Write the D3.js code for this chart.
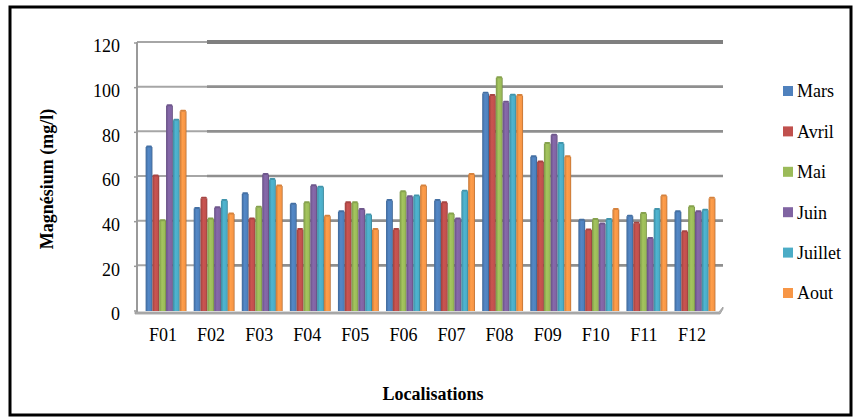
<!DOCTYPE html>
<html><head><meta charset="utf-8">
<script src="https://cdn.jsdelivr.net/npm/d3@7"></script>
<style>html,body{margin:0;padding:0;background:#fff}
text{font-family:'Liberation Serif','Times New Roman','DejaVu Serif',serif}</style>
</head><body><svg id="c" width="853" height="417"></svg>
<script>
const categories = ["F01","F02","F03","F04","F05","F06","F07","F08","F09","F10","F11","F12"];
const seriesNames = ["Mars","Avril","Mai","Juin","Juillet","Aout"];
const mars    = [73, 45.5, 52, 47.4, 44, 49, 49, 97, 68.6, 40.2, 42, 44];
const avril   = [60, 50, 40.7, 36, 48, 36, 48, 96, 66.3, 35.8, 38.8, 35];
const mai     = [40, 40.7, 46, 48, 48, 53, 43, 104, 74.5, 40.5, 43.2, 46.2];
const juin    = [91.5, 45.8, 60.7, 55.6, 45, 50.7, 40.7, 93, 78.3, 38.5, 32, 44];
const juillet = [85, 49, 58.4, 55, 42.5, 51, 53.2, 96.2, 74.5, 40.5, 45, 44.7];
const aout    = [89, 43, 55.5, 42, 36, 55.5, 60.7, 96, 68.6, 45, 51, 50];
const yTicks  = [0, 20, 40, 60, 80, 100, 120];
const colors  = ["#4F81BD","#C0504D","#9BBB59","#8064A2","#4BACC6","#F79646"];
const seriesValues = [mars, avril, mai, juin, juillet, aout];
const FONT = "'Liberation Serif','Times New Roman','DejaVu Serif',serif";

const svg = d3.select("#c");
const defs = svg.append("defs");
colors.forEach((c,i)=>{
  const g = defs.append("linearGradient").attr("id","g"+i).attr("x1","0").attr("x2","1").attr("y1","0").attr("y2","0");
  g.append("stop").attr("offset","0%").attr("stop-color", d3.color(c).darker(0.6));
  g.append("stop").attr("offset","40%").attr("stop-color", d3.color(c).brighter(0.15));
  g.append("stop").attr("offset","80%").attr("stop-color", c);
  g.append("stop").attr("offset","100%").attr("stop-color", d3.color(c).darker(0.9));
});

// outer border
svg.append("rect").attr("x",10).attr("y",7).attr("width",841).attr("height",408)
  .attr("fill","none").attr("stroke","#000").attr("stroke-width",3);

const y = d3.scaleLinear().domain([0,120]).range([310,42]);
const x0 = d3.scaleBand().domain(categories).range([142,719]).paddingInner(0.15).paddingOuter(0.075);
const x1 = d3.scaleBand().domain(seriesNames).range([0,x0.bandwidth()]);

const axisX = 137, wallSplit = 207, rightX = 723;

// gridlines (back wall)
yTicks.filter(v=>v>0).forEach(v=>{
  const yy = y(v);
  svg.append("line").attr("x1",axisX).attr("x2",wallSplit).attr("y1",yy).attr("y2",yy)
    .attr("stroke","#a6a6a6").attr("stroke-width",2);
  svg.append("line").attr("x1",wallSplit).attr("x2",rightX).attr("y1",yy).attr("y2",yy)
    .attr("stroke", v===120 ? "#7f7f7f" : "#8f8f8f").attr("stroke-width", v===120 ? 4 : 2.6);
});
// left axis line
svg.append("line").attr("x1",axisX).attr("x2",axisX).attr("y1",y(120)).attr("y2",312)
  .attr("stroke","#9a9a9a").attr("stroke-width",2);
// tick marks
yTicks.forEach(v=>{
  svg.append("line").attr("x1",axisX-3).attr("x2",axisX).attr("y1",y(v)+1).attr("y2",y(v)+1)
    .attr("stroke","#9a9a9a").attr("stroke-width",1.5);
});
// floor
svg.append("path")
  .attr("d",`M${axisX-2},312 L${rightX-4},312 L${rightX},307 L${rightX},309 L${rightX-3},314 L${axisX-2},314 Z`)
  .attr("fill","#b0b0b0").attr("stroke","#9a9a9a").attr("stroke-width",0.8);

// bars
const groups = svg.append("g").selectAll("g").data(categories).join("g")
  .attr("transform", d=>`translate(${x0(d)},0)`);
groups.selectAll("rect.bar").data((d,ci)=>seriesNames.map((s,si)=>({s,si,v:seriesValues[si][ci]})))
  .join("rect").attr("class","bar")
  .attr("x", d=>x1(d.s)).attr("width", x1.bandwidth())
  .attr("y", d=>y(d.v)).attr("height", d=>y(0)-y(d.v)+1)
  .attr("fill", d=>`url(#g${d.si})`);
groups.selectAll("rect.cap").data((d,ci)=>seriesNames.map((s,si)=>({s,si,v:seriesValues[si][ci]})))
  .join("rect").attr("class","cap")
  .attr("x", d=>x1(d.s)+0.5).attr("width", x1.bandwidth()-1)
  .attr("y", d=>y(d.v)-1.5).attr("height", 2).attr("rx",1)
  .attr("fill", d=>d3.color(colors[d.si]).darker(0.4));

// y tick labels
svg.append("g").selectAll("text").data(yTicks).join("text")
  .attr("font-family",FONT)
  .attr("x",120).attr("y",d=>y(d)+4).attr("dy","0.35em")
  .attr("text-anchor","end").attr("font-size",18).attr("fill","#000").text(d=>d);

// x labels
svg.append("g").selectAll("text").data(categories).join("text")
  .attr("font-family",FONT)
  .attr("x",d=>x0(d)+x0.bandwidth()/2-3).attr("y",341)
  .attr("text-anchor","middle").attr("font-size",18).attr("fill","#000").text(d=>d);

// axis titles
svg.append("text").attr("font-family",FONT).attr("transform","translate(53,179) rotate(-90)")
  .attr("text-anchor","middle").attr("font-size",18).attr("font-weight","bold").text("Magnésium (mg/l)");
svg.append("text").attr("font-family",FONT).attr("x",433).attr("y",400)
  .attr("text-anchor","middle").attr("font-size",18).attr("font-weight","bold").text("Localisations");

// legend
const legY = d3.scalePoint().domain(seriesNames).range([91,293]);
const leg = svg.append("g").selectAll("g").data(seriesNames).join("g")
  .attr("transform", d=>`translate(783,${legY(d)})`);
leg.append("rect").attr("x",0).attr("y",-5).attr("width",10).attr("height",10)
  .attr("fill",(d,i)=>colors[i]);
leg.append("text").attr("font-family",FONT).attr("x",14).attr("y",0).attr("dy","0.35em").attr("font-size",18).text(d=>d);
</script></body></html>
